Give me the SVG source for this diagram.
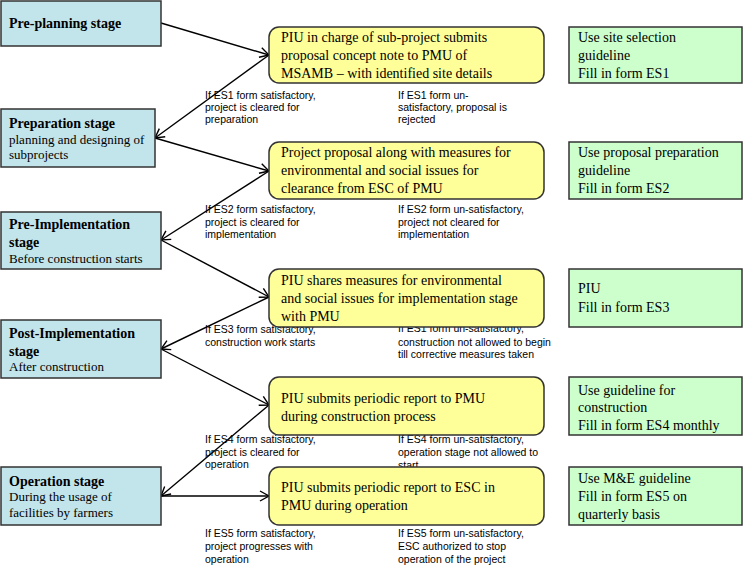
<svg xmlns="http://www.w3.org/2000/svg" width="745" height="572" viewBox="0 0 745 572">
<defs>
<marker id="ah" markerWidth="12" markerHeight="12" refX="10" refY="6" orient="auto" markerUnits="userSpaceOnUse">
<path d="M1,1 L10,6 L1,11" fill="none" stroke="#000" stroke-width="1.4"/>
</marker>
</defs>
<style>
.stage{fill:#C2E4EB;stroke:#333;stroke-width:1.5}
.step{fill:#FFFF99;stroke:#333;stroke-width:1.5}
.note{fill:#CCFFCC;stroke:#333;stroke-width:1.5}
.hd{font-family:"Liberation Serif",serif;font-weight:bold;font-size:14px;fill:#000}
.sub{font-family:"Liberation Serif",serif;font-size:13px;fill:#000}
.tx{font-family:"Liberation Serif",serif;font-size:14px;fill:#000}
.lb{font-family:"Liberation Sans",Arial,sans-serif;font-size:10.5px;fill:#000}
.cn{fill:none;stroke:#000;stroke-width:1.4}
</style>
<rect width="745" height="572" fill="#fff"/>

<g id="labels">
<text class="lb" x="205" y="99">If ES1 form satisfactory,</text>
<text class="lb" x="205" y="111">project is cleared for</text>
<text class="lb" x="205" y="123">preparation</text>
<text class="lb" x="398" y="99">If ES1 form un-</text>
<text class="lb" x="398" y="111">satisfactory, proposal is</text>
<text class="lb" x="398" y="123">rejected</text>

<text class="lb" x="205" y="213">If ES2 form satisfactory,</text>
<text class="lb" x="205" y="226">project is cleared for</text>
<text class="lb" x="205" y="238">implementation</text>
<text class="lb" x="398" y="213">If ES2 form un-satisfactory,</text>
<text class="lb" x="398" y="226">project not cleared for</text>
<text class="lb" x="398" y="238">implementation</text>

<text class="lb" x="205" y="333">If ES3 form satisfactory,</text>
<text class="lb" x="205" y="346">construction work starts</text>
<text class="lb" x="398" y="332">If ES1 form un-satisfactory,</text>
<text class="lb" x="398" y="346">construction not allowed to begin</text>
<text class="lb" x="398" y="358">till corrective measures taken</text>

<text class="lb" x="205" y="443">If ES4 form satisfactory,</text>
<text class="lb" x="205" y="456">project is cleared for</text>
<text class="lb" x="205" y="468">operation</text>
<text class="lb" x="398" y="443">If ES4 form un-satisfactory,</text>
<text class="lb" x="398" y="456">operation stage not allowed to</text>
<text class="lb" x="398" y="469">start</text>

<text class="lb" x="205" y="537">If ES5 form satisfactory,</text>
<text class="lb" x="205" y="550">project progresses with</text>
<text class="lb" x="205" y="563">operation</text>
<text class="lb" x="398" y="537">If ES5 form un-satisfactory,</text>
<text class="lb" x="398" y="550">ESC authorized to stop</text>
<text class="lb" x="398" y="563">operation of the project</text>
</g>

<g id="connectors">
<line class="cn" x1="161" y1="23" x2="269" y2="55" marker-end="url(#ah)"/>
<line class="cn" x1="269" y1="55" x2="155" y2="138" marker-end="url(#ah)"/>
<line class="cn" x1="155" y1="138" x2="269" y2="171" marker-end="url(#ah)"/>
<line class="cn" x1="269" y1="171" x2="161" y2="240" marker-end="url(#ah)"/>
<line class="cn" x1="161" y1="240" x2="269" y2="297" marker-end="url(#ah)"/>
<line class="cn" x1="269" y1="297" x2="161" y2="349" marker-end="url(#ah)"/>
<line class="cn" x1="161" y1="349" x2="269" y2="405" marker-end="url(#ah)"/>
<line class="cn" x1="269" y1="405" x2="161" y2="496" marker-end="url(#ah)"/>
<line class="cn" x1="161" y1="496" x2="269" y2="496" stroke-width="2.2" marker-end="url(#ah)"/>
</g>

<g id="stage1">
<rect class="stage" x="1" y="1" width="160" height="45"/>
<text class="hd" x="9" y="28">Pre-planning stage</text>
</g>
<g id="stage2">
<rect class="stage" x="1" y="109" width="154" height="58"/>
<text class="hd" x="9" y="128">Preparation stage</text>
<text class="sub" x="9" y="144">planning and designing of</text>
<text class="sub" x="9" y="159">subprojects</text>
</g>
<g id="stage3">
<rect class="stage" x="1" y="212" width="160" height="57"/>
<text class="hd" x="9" y="229">Pre-Implementation</text>
<text class="hd" x="9" y="247">stage</text>
<text class="sub" x="9" y="263">Before construction starts</text>
</g>
<g id="stage4">
<rect class="stage" x="1" y="320" width="160" height="58"/>
<text class="hd" x="9" y="338">Post-Implementation</text>
<text class="hd" x="9" y="356">stage</text>
<text class="sub" x="9" y="371">After construction</text>
</g>
<g id="stage5">
<rect class="stage" x="1" y="467" width="160" height="58"/>
<text class="hd" x="9" y="486">Operation stage</text>
<text class="sub" x="9" y="501">During the usage of</text>
<text class="sub" x="9" y="517">facilities by farmers</text>
</g>

<g id="step1">
<rect class="step" x="269" y="27" width="275" height="56" rx="10"/>
<text class="tx" x="281" y="42">PIU in charge of sub-project submits</text>
<text class="tx" x="281" y="60">proposal concept note to PMU of</text>
<text class="tx" x="281" y="78">MSAMB – with identified site details</text>
</g>
<g id="step2">
<rect class="step" x="269" y="142" width="275" height="57" rx="10"/>
<text class="tx" x="281" y="157">Project proposal along with measures for</text>
<text class="tx" x="281" y="175">environmental and social issues for</text>
<text class="tx" x="281" y="193">clearance from ESC of PMU</text>
</g>
<g id="step3">
<rect class="step" x="269" y="269" width="275" height="58" rx="10"/>
<text class="tx" x="281" y="285">PIU shares measures for environmental</text>
<text class="tx" x="281" y="303">and social issues for implementation stage</text>
<text class="tx" x="281" y="321">with PMU</text>
</g>
<g id="step4">
<rect class="step" x="269" y="377" width="275" height="58" rx="10"/>
<text class="tx" x="281" y="403">PIU submits periodic report to PMU</text>
<text class="tx" x="281" y="421">during construction process</text>
</g>
<g id="step5">
<rect class="step" x="269" y="467" width="275" height="58" rx="10"/>
<text class="tx" x="281" y="492">PIU submits periodic report to ESC in</text>
<text class="tx" x="281" y="510">PMU during operation</text>
</g>

<g id="note1">
<rect class="note" x="569" y="27" width="173" height="56"/>
<text class="tx" x="578" y="42">Use site selection</text>
<text class="tx" x="578" y="60">guideline</text>
<text class="tx" x="578" y="78">Fill in form ES1</text>
</g>
<g id="note2">
<rect class="note" x="569" y="142" width="173" height="57"/>
<text class="tx" x="578" y="157">Use proposal preparation</text>
<text class="tx" x="578" y="175">guideline</text>
<text class="tx" x="578" y="193">Fill in form ES2</text>
</g>
<g id="note3">
<rect class="note" x="569" y="269" width="173" height="58"/>
<text class="tx" x="578" y="293">PIU</text>
<text class="tx" x="578" y="312">Fill in form ES3</text>
</g>
<g id="note4">
<rect class="note" x="569" y="377" width="173" height="58"/>
<text class="tx" x="578" y="395">Use guideline for</text>
<text class="tx" x="578" y="412">construction</text>
<text class="tx" x="578" y="430">Fill in form ES4 monthly</text>
</g>
<g id="note5">
<rect class="note" x="569" y="467" width="173" height="58"/>
<text class="tx" x="578" y="483">Use M&amp;E guideline</text>
<text class="tx" x="578" y="501">Fill in form ES5 on</text>
<text class="tx" x="578" y="519">quarterly basis</text>
</g>
</svg>
